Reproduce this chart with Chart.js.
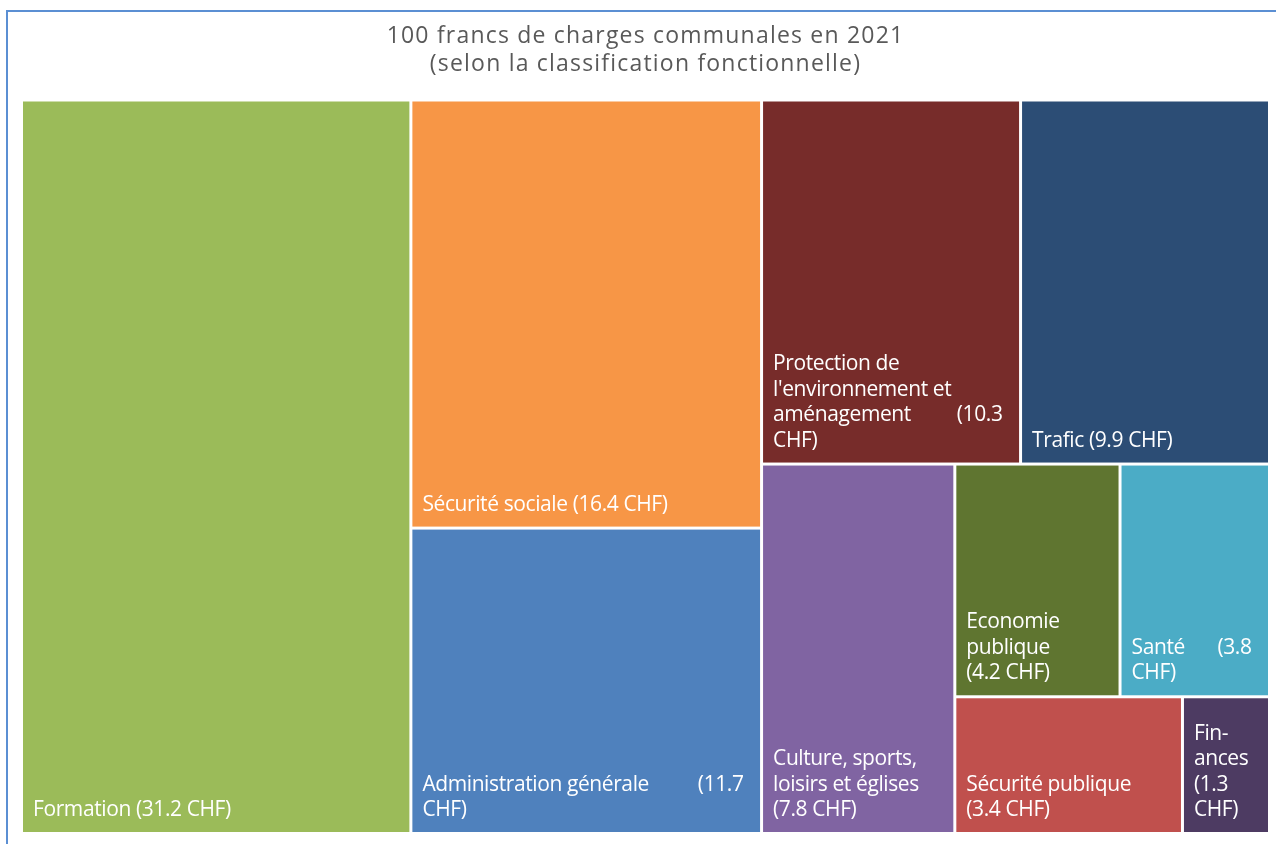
<!DOCTYPE html>
<html>
<head>
<meta charset="utf-8">
<script src="https://cdn.jsdelivr.net/npm/chart.js@4.4.1/dist/chart.umd.min.js"></script>
<style>
    html, body { margin: 0; padding: 0; background: #fff; overflow: hidden; }
    #frame { position: absolute; left: 6px; top: 10px; width: 1400px; height: 1000px;
             border-top: 2px solid #5b8fd3; border-left: 2px solid #5b8fd3; }
    #wrap { position: absolute; left: 0; top: 0; width: 1276px; height: 844px; }
</style>
</head>
<body>
<div id="frame"></div>
<div id="wrap"><canvas id="treemap"></canvas></div>
<script>
const titleLines = ['100 francs de charges communales en 2021', '(selon la classification fonctionnelle)'];
const categories = ['Formation', 'Sécurité sociale', 'Administration générale',
    "Protection de l'environnement et aménagement", 'Trafic', 'Culture, sports, loisirs et églises',
    'Economie publique', 'Santé', 'Sécurité publique', 'Fin\u00ADances'];
const values = [31.2, 16.4, 11.7, 10.3, 9.9, 7.8, 4.2, 3.8, 3.4, 1.3];
const colors = ['#9bbb59', '#f79646', '#4f81bd', '#772c2a', '#2c4d75',
    '#8064a2', '#5f7530', '#4bacc6', '#c0504d', '#4d3b62'];

const LABEL_FONT = '21px "Open Sans"';
const LABEL_SPACING = '-0.4px';
const TITLE_SPACING = '1.2px';

// squarified layout, returns rects as fractions of the area
function worst(row, side) {
    const s = row.reduce((a, b) => a + b, 0);
    const mx = Math.max(...row), mn = Math.min(...row);
    return Math.max(side * side * mx / (s * s), (s * s) / (side * side * mn));
}

function squarify(vals, W, H) {
    const total = vals.reduce((a, b) => a + b, 0);
    const areas = vals.map(v => v * W * H / total);
    let x = 0, y = 0, w = W, h = H, i = 0;
    const rects = [];
    while (i < areas.length) {
        const side = Math.min(w, h);
        const row = [areas[i]];
        let j = i + 1;
        while (j < areas.length && worst(row.concat(areas[j]), side) <= worst(row, side)) {
            row.push(areas[j]);
            j++;
        }
        const thick = row.reduce((a, b) => a + b, 0) / side;
        if (w >= h) {
            let yy = y;
            row.forEach(a => { const hh = a / thick; rects.push({x0: x, y0: yy, x1: x + thick, y1: yy + hh}); yy += hh; });
            x += thick; w -= thick;
        } else {
            let xx = x;
            row.forEach(a => { const ww = a / thick; rects.push({x0: xx, y0: y, x1: xx + ww, y1: y + thick}); xx += ww; });
            y += thick; h -= thick;
        }
        i = j;
    }
    return rects.map(r => ({x0: r.x0 / W, x1: r.x1 / W, y0: r.y0 / H, y1: r.y1 / H}));
}

// word wrap with soft hyphens
function wrapText(ctx, text, maxW) {
    const words = text.split(' ');
    const lines = [];
    let line = [];
    const width = arr => ctx.measureText(arr.join(' ').replace(/\u00AD/g, '')).width;
    for (let k = 0; k < words.length; k++) {
        let word = words[k];
        if (width(line.concat(word)) <= maxW) { line.push(word); continue; }
        if (line.length) { lines.push(line); line = []; }
        if (width([word]) > maxW && word.includes('\u00AD')) {
            const parts = word.split('\u00AD');
            let cut = 1;
            while (cut < parts.length && ctx.measureText(parts.slice(0, cut + 1).join('') + '-').width <= maxW) cut++;
            lines.push([parts.slice(0, cut).join('') + '-']);
            word = parts.slice(cut).join('\u00AD');
        }
        line.push(word);
    }
    if (line.length) lines.push(line);
    return lines.map(l => l.map(wd => wd.replace(/\u00AD/g, '')));
}

const spacingPlugin = {
    id: 'spacing',
    beforeDraw(chart) { chart.ctx.letterSpacing = TITLE_SPACING; }
};

const treemapPlugin = {
    id: 'treemap',
    beforeDatasetsDraw(chart) {
        const {ctx, chartArea, scales} = chart;
        const rects = squarify(values, chartArea.width, chartArea.height);
        const gap = 1.5, padL = 10, padR = 31.5, padJ = 16.5, padB = 16, lh = 25.5;
        ctx.save();
        ctx.letterSpacing = LABEL_SPACING;
        rects.forEach((r, i) => {
            const left = scales.x.getPixelForValue(r.x0) + gap;
            const right = scales.x.getPixelForValue(r.x1) - gap;
            const top = scales.y.getPixelForValue(r.y0) + gap;
            const bottom = scales.y.getPixelForValue(r.y1) - gap;
            ctx.fillStyle = colors[i];
            ctx.fillRect(left, top, right - left, bottom - top);

            ctx.font = LABEL_FONT;
            ctx.fillStyle = '#ffffff';
            ctx.textBaseline = 'alphabetic';
            ctx.textAlign = 'left';
            const maxW = right - left - padL - padR;
            const lines = wrapText(ctx, categories[i] + ' (' + values[i] + ' CHF)', maxW);
            lines.forEach((ln, k) => {
                const yy = bottom - padB - (lines.length - 1 - k) * lh;
                const last = ln[ln.length - 1];
                if (k < lines.length - 1 && ln.length > 1 && last.startsWith('(')) {
                    // value split over two lines: push the opening part to the right edge
                    const head = ln.slice(0, -1).join(' ');
                    ctx.fillText(head, left + padL, yy);
                    ctx.fillText(last, right - padJ - ctx.measureText(last).width, yy);
                } else {
                    ctx.fillText(ln.join(' '), left + padL, yy);
                }
            });
        });
        ctx.restore();
    }
};

document.addEventListener('DOMContentLoaded', () => {
    const ctx = document.getElementById('treemap').getContext('2d');
    new Chart(ctx, {
        type: 'scatter',
        data: { datasets: [] },
        plugins: [spacingPlugin, treemapPlugin],
        options: {
            responsive: true,
            maintainAspectRatio: false,
            animation: false,
            layout: { padding: { left: 21.5, right: 6.5, top: 0, bottom: 10.5 } },
            scales: {
                x: { type: 'linear', min: 0, max: 1, display: false },
                y: { type: 'linear', min: 0, max: 1, reverse: true, display: false }
            },
            plugins: {
                legend: { display: false },
                tooltip: { enabled: false },
                title: {
                    display: true,
                    text: titleLines,
                    color: '#595959',
                    font: { family: '"Open Sans"', size: 23, weight: 'normal', lineHeight: 1.2 },
                    padding: { top: 23, bottom: 21.8 }
                }
            }
        }
    });
});
</script>
</body>
</html>
